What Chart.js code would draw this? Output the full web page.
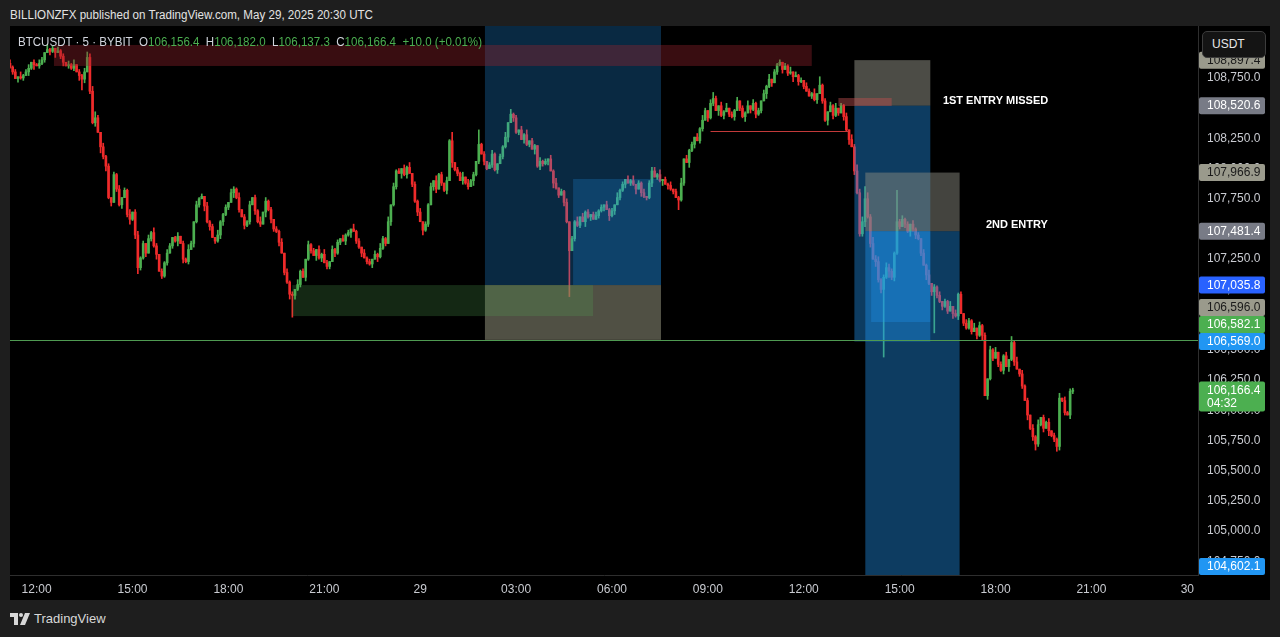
<!DOCTYPE html>
<html>
<head>
<meta charset="utf-8">
<script src="https://cdn.jsdelivr.net/npm/chart.js@4.4.1/dist/chart.umd.min.js"></script>
<style>
  html, body { margin: 0; padding: 0; width: 1280px; height: 637px; overflow: hidden; background: #1e1e1e; font-family: "Liberation Sans", Arial, sans-serif; }
  #head { position: absolute; left: 10px; top: 8px; color: #e3e3e3; font-size: 12px; white-space: nowrap; transform-origin: left top; }
  #panel { position: absolute; left: 10px; top: 26px; width: 1260px; height: 574px; background: #000; }
  #c { position: absolute; left: 0; top: 0; }
  #legend { position: absolute; left: 8px; top: 9px; font-size: 12px; color: #d1d4dc; white-space: nowrap; transform-origin: left top; }
  #legend .v { color: #4caf50; }
  #usdt { position: absolute; left: 1192px; top: 5px; width: 62px; height: 25px; border: 1px solid #3c3c3c; border-radius: 5px; background: #141414; color: #e8e8e8; font-size: 12px; line-height: 25px; text-indent: 9px; }
  #foot { position: absolute; left: 10px; top: 611px; color: #d8d8d8; font-size: 13px; display: flex; align-items: center; gap: 4px; }
</style>
</head>
<body>
<div id="head">BILLIONZFX published on TradingView.com, May 29, 2025 20:30 UTC</div>
<div id="panel">
  <canvas id="c" width="1260" height="574"></canvas>
  <div id="legend"></div>
  <div id="usdt">USDT</div>
</div>
<div id="foot">
  <svg width="20" height="12" viewBox="0 0 20 12"><path d="M0 0h8v12H4V4H0z" fill="#d8d8d8"/><circle cx="11" cy="2" r="2" fill="#d8d8d8"/><path d="M15 0h5l-5 12h-5z" fill="#d8d8d8"/></svg>
  <span>TradingView</span>
</div>
<script>
// BTCUSDT 5m closes, May 28 11:10 -> May 29 20:25 (one value per bar)
const firstOpen = 108870;
const closes = [
  108840,108800,108745,108760,108750,108770,108800,108830,108880,108860,108850,108870,108900,108960,108985,108970,108995,108960,108975,108930,
  108880,108850,108860,108830,108860,108800,108770,108740,108800,108920,108640,108380,108420,108300,108180,108100,108020,107760,107720,107950,
  107830,107700,107760,107820,107620,107580,107640,107450,107180,107260,107380,107300,107420,107470,107360,107290,107150,107110,107220,107300,
  107360,107430,107400,107440,107380,107250,107230,107330,107380,107560,107700,107750,107770,107690,107560,107520,107430,107400,107450,107560,
  107620,107680,107720,107800,107830,107760,107660,107600,107530,107560,107700,107760,107650,107560,107540,107640,107730,107660,107580,107500,
  107480,107390,107300,107140,107060,106960,106950,107000,107040,107150,107100,107250,107370,107320,107280,107330,107260,107290,107220,107190,
  107230,107330,107300,107390,107420,107400,107450,107470,107500,107480,107400,107350,107300,107260,107230,107210,107250,107290,107270,107340,
  107420,107380,107560,107700,107850,107980,107960,108000,107950,108010,107960,107870,107730,107640,107560,107490,107540,107700,107850,107900,
  107830,107950,107880,107820,107900,108230,108050,107990,107960,107900,107930,107880,107850,107900,107950,108060,108200,108120,108060,108000,
  108030,108120,107990,108040,108100,108180,108260,108380,108450,108420,108300,108320,108240,108280,108200,108230,108160,108190,108020,108060,
  108040,108060,108080,107980,107880,107840,107780,107810,107720,107560,107320,107420,107560,107530,107600,107560,107640,107600,107620,107580,
  107610,107650,107680,107700,107660,107610,107650,107700,107760,107820,107870,107910,107880,107900,107870,107830,107880,107800,107770,107760,
  107880,107980,107930,107950,107900,107910,107870,107860,107830,107810,107760,107740,107880,108080,108050,108150,108200,108260,108230,108330,
  108400,108480,108420,108540,108580,108480,108520,108440,108470,108500,108450,108430,108480,108560,108500,108430,108460,108520,108490,108540,
  108450,108480,108560,108620,108680,108740,108710,108800,108860,108880,108820,108850,108790,108800,108760,108770,108720,108730,108680,108640,
  108600,108620,108570,108620,108690,108560,108400,108470,108520,108440,108500,108460,108520,108430,108320,108240,108180,107980,107800,107460,
  107560,107750,107600,107380,107250,107230,107080,107000,107100,107180,107150,107100,107300,107560,107520,107580,107540,107480,107540,107500,
  107450,107420,107300,107200,107120,107050,106980,107020,106950,106900,106860,106900,106820,106860,106800,106780,106960,106800,106720,106680,
  106740,106650,106680,106620,106700,106620,106120,106260,106500,106430,106480,106380,106330,106450,106360,106420,106560,106400,106340,106300,
  106200,106080,105960,105850,105780,105720,105880,105940,105850,105900,105830,105790,105760,105700,106100,106080,105980,105960,106156.4,106166.4
];
// upper / lower shadow length per bar, in tens of USDT
const wickUp =
  '31204123021320412031' + '20314021333452031202' + '13021402312031420213' + '20130214203120312041' +
  '12032140213021403120' + '21303120412031203142' + '03120312041203120314' + '21403120314021302130' +
  '41203130214031203120' + '23102140312031402103' + '12031402130214031202' + '31203120412031402130' +
  '20314021302140312031' + '42031203140213021403' + '12031402130214031203' + '21403120314021304253' +
  '43525341243214231203' + '12031402130214031203' + '21403120314021302140' + '31203140213021403121';
const wickDown =
  '12031203140212031402' + '30212041302130524130' + '21302413021302140312' + '02140312031204130213' +
  '31204120312031204132' + '13021403120312041302' + '20312031402130213041' + '12031204130213041203' +
  '30213041203120412031' + '02130214031203120413' + '21304120313021204130' + '02130413021302140312' +
  '13021403120312041302' + '20312041302130214031' + '31204130213021403120' + '02130214031203140312' +
  '24130423415231203142' + '31204130213120413021' + '12031403120213041302' + '20413021304120312030';
// notable wicks: [bar, high, low]
const wicks = [
  [27,null,108650],[29,108965,null],[48,null,107130],[57,null,107090],[106,null,106770],
  [166,108300,null],[176,108320,null],[188,108490,null],[210,null,106940],[241,108010,null],
  [251,null,107660],[264,108630,null],[289,108900,null],[304,108760,null],[321,107850,null],
  [328,null,106440],[333,107820,null],[347,null,106640],[376,106610,null],[385,null,105670],
  [393,null,105660],[399,106182.0,106137.3]
];
const tickLabels = ['12:00','15:00','18:00','21:00','29','03:00','06:00','09:00','12:00','15:00','18:00','21:00','30'];
// price-scale markers
const levelPrices = [108897.4, 108520.6, 107966.9, 107481.4, 107035.8, 106596.0, 106582.1, 106569.0, 104602.1];
const countdown = '04:32';
// drawings: [fromBar, toBar, topPrice, bottomPrice]
const zones = [
  [178.3, 244.4, 109400, 107035.8],
  [178.3, 244.4, 107035.8, 106582.1],
  [211.4, 244.4, 107914, 107035.8],
  [106, 218.9, 107035.8, 106779],
  [16.5, 301, 109023, 108849],
  [317, 345.5, 108897.4, 108520.6],
  [317, 345.5, 108520.6, 106569.0],
  [321.1, 356.5, 107966.9, 107481.4],
  [321.1, 356.5, 107481.4, 104602.1],
  [323.3, 345.5, 107481.4, 106730],
  [311, 331, 108584, 108518]
];
const segments = [[263, 315, 108311]];
const notes = [[370, 108560, '1ST ENTRY MISSED'], [378, 107533, '2ND ENTRY']];

const zoneColors = [
  'rgba(33,150,243,0.27)', 'rgba(140,140,120,0.57)', 'rgba(33,150,243,0.23)', 'rgba(80,160,80,0.25)',
  'rgba(150,35,45,0.38)', 'rgba(135,135,125,0.56)', 'rgba(33,150,243,0.4)', 'rgba(135,135,125,0.5)',
  'rgba(33,150,243,0.4)', 'rgba(33,150,243,0.3)', 'rgba(190,80,80,0.45)'
];
const levelStyles = [
  ['#9a9a8c', '#1a1a1a'], ['#787b86', '#ffffff'], ['#9a9a8c', '#1a1a1a'], ['#787b86', '#ffffff'],
  ['#2962ff', '#ffffff'], ['#9a9a8c', '#1a1a1a'], ['#4caf50', '#ffffff'], ['#2196f3', '#ffffff'],
  ['#2196f3', '#ffffff']
];
const UP = '#4caf50', DOWN = '#ef2b2b';
const FONT = '"Liberation Sans", Arial, sans-serif';

const nBars = 447;
const categories = Array.from({length: nBars}, (_, i) => {
  const m = (670 + i * 5) % 1440;
  return String(Math.floor(m / 60)).padStart(2, '0') + ':' + String(m % 60).padStart(2, '0');
});
const tickAt = {};
tickLabels.forEach((t, k) => { tickAt[10 + k * 36] = t; });

const opens = closes.map((c, i) => i === 0 ? firstOpen : closes[i - 1]);
const highs = closes.map((c, i) => Math.max(c, opens[i]) + 10 * Number(wickUp[i]));
const lows = closes.map((c, i) => Math.min(c, opens[i]) - 10 * Number(wickDown[i]));
wicks.forEach(([i, h, l]) => { if (h !== null) highs[i] = h; if (l !== null) lows[i] = l; });
const colors = closes.map((c, i) => c >= opens[i] ? UP : DOWN);

const fmt = v => v.toLocaleString('en-US', {minimumFractionDigits: 1, maximumFractionDigits: 1});

// legend text
const last = closes.length - 1;
const chg = closes[last] - opens[last];
document.getElementById('legend').innerHTML =
  'BTCUSDT \u00b7 5 \u00b7 BYBIT&nbsp;&nbsp;O<span class="v">' + fmt(opens[last]) + '</span>&nbsp;&nbsp;H<span class="v">' + fmt(highs[last]) +
  '</span>&nbsp;&nbsp;L<span class="v">' + fmt(lows[last]) + '</span>&nbsp;&nbsp;C<span class="v">' + fmt(closes[last]) +
  '</span>&nbsp;&nbsp;<span class="v">+' + chg.toFixed(1) + ' (+' + (chg / opens[last] * 100).toFixed(2) + '%)</span>';

function fitWidth(el, w) {
  const cur = el.getBoundingClientRect().width;
  el.style.transform = 'scaleX(' + (w / cur) + ')';
}
fitWidth(document.getElementById('head'), 363);
fitWidth(document.getElementById('legend'), 464);

const drawings = {
  id: 'drawings',
  afterDatasetsDraw(chart) {
    const {ctx, chartArea: a, scales: {x, y}} = chart;
    ctx.save();
    ctx.beginPath();
    ctx.rect(a.left, a.top, a.right - a.left, a.bottom - a.top);
    ctx.clip();
    zones.forEach(([f, t, top, bot], k) => {
      const x0 = x.getPixelForValue(f), x1 = x.getPixelForValue(t);
      const y0 = y.getPixelForValue(top), y1 = y.getPixelForValue(bot);
      ctx.fillStyle = zoneColors[k];
      ctx.fillRect(x0, y0, x1 - x0, y1 - y0);
    });
    ctx.lineWidth = 1;
    ctx.strokeStyle = '#c23a3a';
    segments.forEach(([f, t, p]) => {
      const yy = Math.round(y.getPixelForValue(p)) + 0.5;
      ctx.beginPath();
      ctx.moveTo(x.getPixelForValue(f), yy);
      ctx.lineTo(x.getPixelForValue(t), yy);
      ctx.stroke();
    });
    // horizontal level line
    const ly = Math.round(y.getPixelForValue(levelPrices[6])) + 0.5;
    ctx.strokeStyle = '#4f9a52';
    ctx.beginPath();
    ctx.moveTo(a.left, ly);
    ctx.lineTo(a.right, ly);
    ctx.stroke();
    ctx.fillStyle = '#ffffff';
    ctx.font = 'bold 11px ' + FONT;
    ctx.textAlign = 'center';
    ctx.textBaseline = 'middle';
    notes.forEach(([i, p, txt]) => ctx.fillText(txt, x.getPixelForValue(i), y.getPixelForValue(p)));
    ctx.restore();
  },
  afterDraw(chart) {
    const {ctx, scales: {y}} = chart;
    const items = levelPrices.map((p, k) => ({p, bg: levelStyles[k][0], fg: levelStyles[k][1], up: 8.5, down: 8.5}));
    items.push({p: closes[last], bg: UP, fg: '#ffffff', up: 8.5, down: 21.5, sub: countdown});
    items.forEach(it => { it.y = y.getPixelForValue(it.p); });
    items.sort((a, b) => a.p - b.p);
    let limit = y.bottom;
    items.forEach(it => {
      it.y = Math.min(it.y, limit - it.down);
      limit = it.y - it.up;
    });
    ctx.save();
    ctx.font = '12px ' + FONT;
    ctx.textAlign = 'left';
    ctx.textBaseline = 'middle';
    items.forEach(it => {
      ctx.fillStyle = it.bg;
      ctx.beginPath();
      ctx.roundRect(y.left + 1, it.y - it.up, 66, it.up + it.down, 2);
      ctx.fill();
      ctx.fillStyle = it.fg;
      ctx.fillText(fmt(it.p), y.left + 9, it.y + 0.5);
      if (it.sub) ctx.fillText(it.sub, y.left + 9, it.y + 13.5);
    });
    ctx.restore();
  }
};

new Chart(document.getElementById('c'), {
  type: 'bar',
  data: {
    labels: categories,
    datasets: [
      {
        data: closes.map((c, i) => [opens[i], c]),
        backgroundColor: colors,
        barThickness: 2,
        minBarLength: 1,
        grouped: false,
        order: 1
      },
      {
        data: closes.map((c, i) => [lows[i], highs[i]]),
        backgroundColor: colors,
        barThickness: 1,
        grouped: false,
        order: 2
      }
    ]
  },
  options: {
    responsive: false,
    animation: false,
    devicePixelRatio: 1,
    layout: { padding: 0 },
    plugins: { legend: { display: false }, tooltip: { enabled: false } },
    scales: {
      x: {
        type: 'category',
        offset: false,
        grid: { display: false, drawTicks: false },
        border: { display: true, color: '#2e2e2e' },
        ticks: {
          autoSkip: false,
          maxRotation: 0,
          minRotation: 0,
          padding: 7,
          color: '#c9cbd1',
          font: { size: 12, family: FONT },
          callback: (v, i) => tickAt[i] ?? null
        },
        afterFit(s) { s.height = 25; s.paddingLeft = 0; s.paddingRight = 0; }
      },
      y: {
        type: 'linear',
        position: 'right',
        min: 104636,
        max: 109180,
        grid: { display: false, drawTicks: false },
        border: { display: true, color: '#2e2e2e' },
        ticks: {
          padding: 9,
          color: '#c9cbd1',
          font: { size: 12, family: FONT },
          callback: v => fmt(v)
        },
        afterBuildTicks(s) {
          const ticks = [];
          for (let v = Math.ceil(s.min / 250) * 250; v <= s.max; v += 250) ticks.push({value: v});
          s.ticks = ticks;
        },
        afterFit(s) { s.width = 72; s.paddingTop = 0; s.paddingBottom = 0; }
      }
    }
  },
  plugins: [drawings]
});
</script>
</body>
</html>
